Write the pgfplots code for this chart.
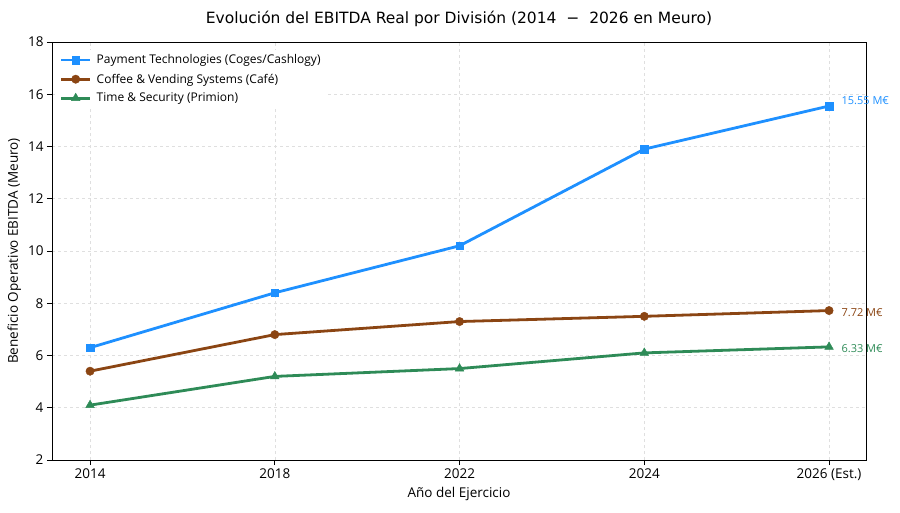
\documentclass[border=0pt]{standalone}
\usepackage{pgfplots}
\pgfplotsset{compat=1.18}
\usepackage{fontspec}
\setmainfont{Open Sans}
\newfontfamily\titlefont{DejaVu Sans}
\definecolor{cblue}{HTML}{1E90FF}
\definecolor{cbrown}{HTML}{8B4513}
\definecolor{cgreen}{HTML}{2E8B57}
\begin{document}
\begin{tikzpicture}
\begin{axis}[
  name=ax,
  scale only axis,
  width=814pt, height=418pt,
  xmin=-0.206, xmax=4.2,
  ymin=2, ymax=18,
  xtick={0,1,2,3,4},
  xticklabels={2014,2018,2022,2024,2026 (Est.)},
  ytick={2,4,...,18},
  tick align=outside,
  tick pos=left,
  major tick length=5pt,
  tick style={black, line width=0.8pt},
  axis line style={line width=0.8pt},
  grid=major,
  grid style={dashed, gray!25, line width=0.6pt},
  ticklabel style={font=\fontsize{13.5}{15}\selectfont},
  /pgf/number format/assume math mode=true,
  xlabel={Año del Ejercicio},
  ylabel={Beneficio Operativo EBITDA (Meuro)},
  label style={font=\fontsize{13.5}{16}\selectfont},
  title={\titlefont\fontsize{15.5}{18}\selectfont Evolución del EBITDA Real por División (2014 \ − \ 2026 en Meuro)},
  title style={yshift=6pt},
  legend style={draw=none, fill=white, font=\fontsize{12}{13}\selectfont, row sep=4.5pt, at={(0.006,0.982)}, anchor=north west, inner sep=3pt},
  legend cell align=left,
  legend image code/.code={
    \draw[#1, mark repeat=2, mark phase=2] plot coordinates {(0cm,0cm) (0.5cm,0cm) (1cm,0cm)};
    \path (1.12cm,0);
  },
  clip=false,
]
\addplot[cblue, line width=2.8pt, mark=square*, mark size=3.7pt, mark options={solid, line width=0.4pt}] coordinates {(0,6.3) (1,8.4) (2,10.2) (3,13.9) (4,15.55)};
\addlegendentry{Payment Technologies (Coges/Cashlogy)}
\addplot[cbrown, line width=2.8pt, mark=*, mark size=4.2pt, mark options={solid, line width=0.4pt}] coordinates {(0,5.4) (1,6.8) (2,7.3) (3,7.5) (4,7.72)};
\addlegendentry{Coffee \& Vending Systems (Café)}
\addplot[cgreen, line width=2.8pt, mark=triangle*, mark size=5pt, mark options={solid, line width=0.4pt}] coordinates {(0,4.1) (1,5.2) (2,5.5) (3,6.1) (4,6.33)};
\addlegendentry{Time \& Security (Primion)}
\node[anchor=west, text=cblue, font=\fontsize{11}{13}\selectfont, yshift=5pt] at (axis cs:4,15.55) {\hspace{9pt}15.55 M€};
\node[anchor=west, text=cbrown, font=\fontsize{11}{13}\selectfont, yshift=-2pt] at (axis cs:4,7.72) {\hspace{9pt}7.72 M€};
\node[anchor=west, text=cgreen, font=\fontsize{11}{13}\selectfont, yshift=-1.5pt] at (axis cs:4,6.33) {\hspace{9pt}6.33 M€};
\coordinate (bl) at (rel axis cs:0,0);
\coordinate (tr) at (rel axis cs:1,1);
\end{axis}
\pgfresetboundingbox
\useasboundingbox ([shift={(-52pt,-52pt)}]bl) rectangle ([shift={(34pt,42pt)}]tr);
\end{tikzpicture}
\end{document}
